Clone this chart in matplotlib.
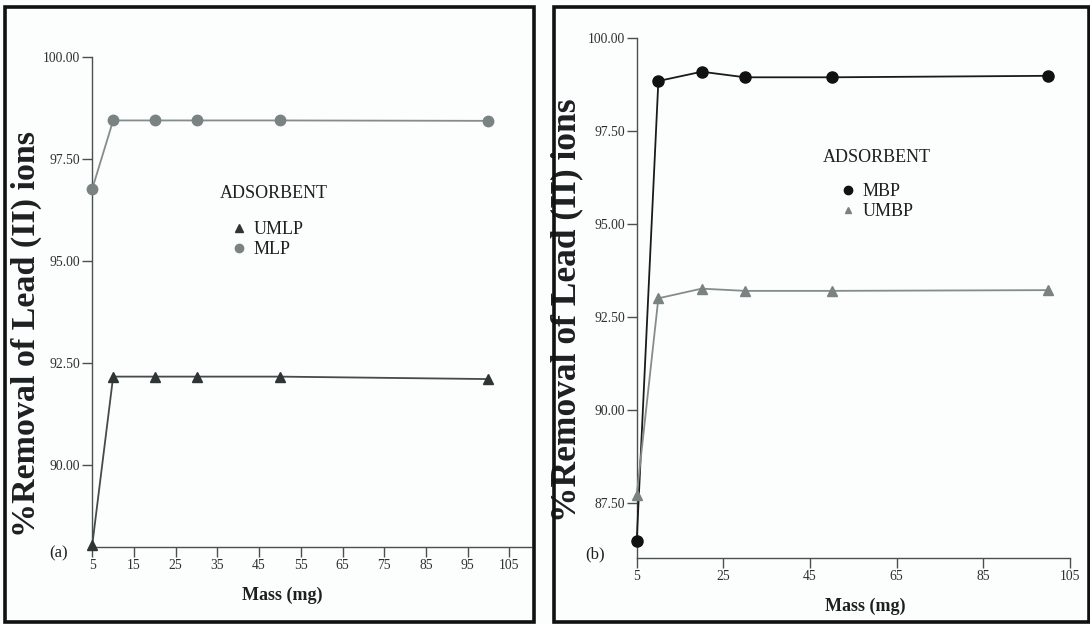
import matplotlib
matplotlib.use("Agg")
import matplotlib.pyplot as plt
from matplotlib.lines import Line2D
from matplotlib.patches import Rectangle

# ---- data -------------------------------------------------------------
mass = [5, 10, 20, 30, 50, 100]

# panel (a): leaf powder
umlp = [88.06, 92.17, 92.17, 92.17, 92.17, 92.11]
mlp = [96.77, 98.44, 98.44, 98.44, 98.44, 98.43]

# panel (b): bark powder
mbp = [86.46, 98.85, 99.10, 98.95, 98.95, 98.99]
umbp = [87.70, 93.00, 93.26, 93.20, 93.20, 93.22]

xticks_a = [5, 15, 25, 35, 45, 55, 65, 75, 85, 95, 105]
xticks_b = [5, 25, 45, 65, 85, 105]
yticks_a = [90.0, 92.5, 95.0, 97.5, 100.0]
yticks_b = [87.5, 90.0, 92.5, 95.0, 97.5, 100.0]

ylabel = "%Removal of Lead (II) ions"
xlabel = "Mass (mg)"

# ---- style ------------------------------------------------------------
W, H = 1090, 624
DPI = 100
SERIF = ["Liberation Serif", "DejaVu Serif"]
BG = "#fcfdfd"
DARK = "#2f3434"
GREY = "#7b8282"
AXC = "#4a4f4f"
INK = "#1c2020"

plt.rcParams["font.family"] = SERIF

fig = plt.figure(figsize=(W / DPI, H / DPI), dpi=DPI, facecolor=BG)


def px_axes(left, top, right, bottom):
    return fig.add_axes([left / W, 1 - bottom / H, (right - left) / W, (bottom - top) / H])


def style_axes(ax, xticks, yticks, xlim, ylim):
    ax.set_facecolor(BG)
    for s in ("top", "right"):
        ax.spines[s].set_visible(False)
    for s in ("left", "bottom"):
        ax.spines[s].set_color(AXC)
        ax.spines[s].set_linewidth(1.0)
    ax.set_xlim(*xlim)
    ax.set_ylim(*ylim)
    ax.set_xticks(xticks)
    ax.set_xticklabels([str(t) for t in xticks])
    ax.set_yticks(yticks)
    ax.set_yticklabels([f"{t:.2f}" for t in yticks])
    ax.tick_params(axis="both", colors=AXC, labelcolor="#2c3131", length=7,
                   width=1.0, labelsize=9.8, pad=1.5)


def frame(x0, y0, x1, y1):
    fig.add_artist(Rectangle((x0 / W, 1 - y1 / H), (x1 - x0) / W, (y1 - y0) / H,
                             transform=fig.transFigure, fill=False,
                             edgecolor="#111111", linewidth=2.6))


def side_label(ax, size, x_right, y_mid):
    ax.set_ylabel(ylabel, fontsize=size, fontweight="bold", color=INK)
    ax.yaxis.set_label_coords(x_right / W, 1 - y_mid / H, transform=fig.transFigure)


def bottom_label(ax, x_mid, y_top):
    ax.set_xlabel(xlabel, fontsize=13, fontweight="bold", color=INK)
    ax.xaxis.set_label_coords(x_mid / W, 1 - y_top / H, transform=fig.transFigure)


def key(handles, left, top):
    fig.legend(handles=handles, loc="upper left", bbox_to_anchor=(left / W, 1 - top / H),
               bbox_transform=fig.transFigure, frameon=False, fontsize=13, borderpad=0,
               borderaxespad=0, handlelength=0.8, handletextpad=0.4, labelspacing=0.18,
               labelcolor=INK)


frame(5, 7, 534, 622)
frame(554, 7, 1089, 622)

# ---- panel (a) --------------------------------------------------------
axa = px_axes(92.3, 56.7, 531, 547)
style_axes(axa, xticks_a, yticks_a, (5, 110.2), (88.0, 100.0))
axa.plot(mass, umlp, color="#454a4a", lw=1.3, marker="^", ms=7.5,
         mfc=DARK, mec=DARK, clip_on=False, zorder=3)
axa.plot(mass, mlp, color="#858c8c", lw=1.3, marker="o", ms=7.5,
         mfc=GREY, mec=GREY, clip_on=False, zorder=3)
side_label(axa, 24.5, 42, 334)
bottom_label(axa, 282, 587)
fig.text(59 / W, 1 - 553 / H, "(a)", fontsize=12, ha="center", va="center", color=INK)

fig.text(274 / W, 1 - 193 / H, "ADSORBENT", fontsize=13, ha="center", va="center", color=INK)
key([
    Line2D([], [], ls="none", marker="^", ms=6, mfc=DARK, mec=DARK, label="UMLP"),
    Line2D([], [], ls="none", marker="o", ms=6, mfc=GREY, mec=GREY, label="MLP"),
], 232, 221)

# ---- panel (b) --------------------------------------------------------
axb = px_axes(636.7, 38.3, 1070, 558.3)
style_axes(axb, xticks_b, yticks_b, (5, 105), (86.0, 100.0))
axb.plot(mass, mbp, color="#1a1a1a", lw=1.3, marker="o", ms=8,
         mfc="#111111", mec="#111111", clip_on=False, zorder=3)
axb.plot(mass, umbp, color="#858c8c", lw=1.3, marker="^", ms=7.5,
         mfc=GREY, mec=GREY, clip_on=False, zorder=3)
side_label(axb, 25.5, 583, 310)
bottom_label(axb, 865, 598)
fig.text(595 / W, 1 - 554 / H, "(b)", fontsize=12, ha="center", va="center", color=INK)

fig.text(877 / W, 1 - 157 / H, "ADSORBENT", fontsize=13, ha="center", va="center", color=INK)
key([
    Line2D([], [], ls="none", marker="o", ms=6, mfc="#111111", mec="#111111", label="MBP"),
    Line2D([], [], ls="none", marker="^", ms=5, mfc=GREY, mec=GREY, label="UMBP"),
], 841, 183)

fig.savefig("out.png", dpi=DPI, facecolor=BG)
